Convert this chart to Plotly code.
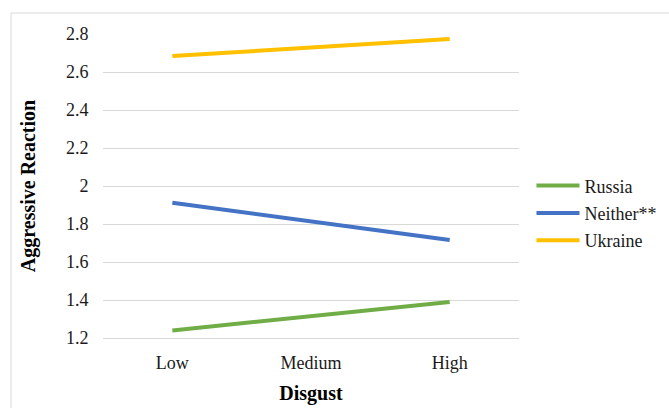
import plotly.graph_objects as go

categories = ["Low", "Medium", "High"]
russia = [1.24, 1.315, 1.39]
neither = [1.912, 1.814, 1.716]
ukraine = [2.684, 2.729, 2.774]
series_names = ["Russia", "Neither**", "Ukraine"]
series_values = [russia, neither, ukraine]
colors = ["#70AD47", "#4472C4", "#FFC000"]
y_ticks = [1.2, 1.4, 1.6, 1.8, 2.0, 2.2, 2.4, 2.6, 2.8]
y_tick_labels = ["1.2", "1.4", "1.6", "1.8", "2", "2.2", "2.4", "2.6", "2.8"]

FONT = "Liberation Serif, Times New Roman, serif"
TXT = "#1a1a1a"

fig = go.Figure()
for i, (name, vals, col) in enumerate(zip(series_names, series_values, colors)):
    fig.add_trace(go.Scatter(
        x=categories, y=vals, name=name, mode="lines",
        line=dict(color=col, width=4),
        legendgroup=f"g{i}",
    ))

fig.update_layout(
    width=669, height=408,
    margin=dict(l=103, r=150, t=34, b=70, autoexpand=False),
    paper_bgcolor="white", plot_bgcolor="white",
    font=dict(family=FONT, size=18, color=TXT),
    showlegend=True,
    legend=dict(
        x=1.03, xanchor="left", y=0.41, yanchor="middle",
        traceorder="grouped", tracegroupgap=1, itemwidth=43,
        font=dict(family=FONT, size=18, color=TXT),
        bgcolor="rgba(0,0,0,0)",
    ),
    xaxis=dict(
        type="category", range=[-0.5, 2.5],
        showgrid=False, showline=True, linecolor="#d9d9d9", linewidth=1,
        ticks="outside", ticklen=8, tickcolor="rgba(0,0,0,0)",
        tickfont=dict(family=FONT, size=18, color=TXT),
        title=dict(text="<b>Disgust</b>", font=dict(family=FONT, size=20, color="#000000"), standoff=14),
        fixedrange=True,
    ),
    yaxis=dict(
        range=[1.2, 2.8],
        tickvals=y_ticks, ticktext=y_tick_labels,
        showgrid=True, gridcolor="#d9d9d9", gridwidth=1,
        zeroline=False, showline=False,
        ticks="outside", ticklen=10, tickcolor="rgba(0,0,0,0)",
        tickfont=dict(family=FONT, size=18, color=TXT),
        title=dict(text="<b>Aggressive Reaction</b>", font=dict(family=FONT, size=20, color="#000000"), standoff=24),
        fixedrange=True,
    ),
    shapes=[
        dict(type="rect", xref="paper", yref="paper",
             x0=(11 - 103) / 416, x1=1.5, y0=-0.5, y1=(338 - 13) / 304,
             line=dict(color="#d9d9d9", width=1), fillcolor="rgba(0,0,0,0)", layer="below"),
    ],
)

fig.write_html("out.html", config={"displayModeBar": False},
               post_script="document.body.style.margin='0';")
